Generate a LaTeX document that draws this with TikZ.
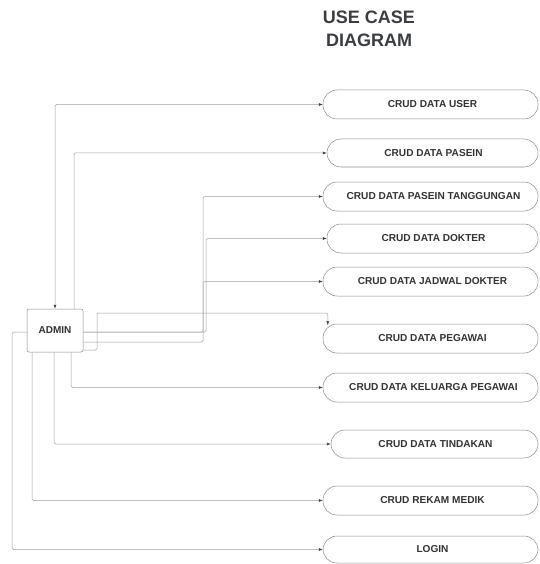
\documentclass[tikz,border=0pt]{standalone}
\usepackage{fontspec}
\setmainfont{Liberation Sans}
\usetikzlibrary{arrows.meta}
\definecolor{linegray}{HTML}{A0A0A0}
\definecolor{shapegray}{HTML}{8C8C8C}
\definecolor{tipgray}{HTML}{444444}
\definecolor{textgray}{HTML}{333333}
\definecolor{titlegray}{HTML}{3A3D42}
\begin{document}
\begin{tikzpicture}[x=1pt,y=-1pt,
  usecase/.style={draw=shapegray,line width=0.5pt,rounded corners=14pt,
    minimum height=29pt,inner sep=0pt,font=\bfseries\fontsize{10.1}{12}\selectfont,text=textgray},
  actorbox/.style={draw=shapegray,line width=0.5pt,rounded corners=2pt,
    minimum width=56pt,minimum height=43pt,inner sep=0pt,font=\bfseries\fontsize{10}{12}\selectfont,text=textgray},
  conn/.style={draw=linegray,line width=0.5pt,rounded corners=1.5pt,
    -{Latex[length=4pt,width=3pt,color=tipgray]}},
  titletext/.style={align=center,inner sep=0pt,text=titlegray,
    font=\bfseries\fontsize{18}{23}\selectfont}]
\useasboundingbox (0,0) rectangle (539,564);
\fill[white] (0,0) rectangle (539,564);

\node[titletext] (title) at (369,29) {USE CASE\\DIAGRAM};

\node[actorbox] (ADMIN) at (55,330.5) {ADMIN};

\node[usecase,minimum width=215pt] (USER) at (430.5,104.5) {\hspace*{4pt}CRUD DATA USER};
\node[usecase,minimum width=211pt,minimum height=28pt] (PASEIN) at (432.5,153) {\hspace*{2pt}CRUD DATA PASEIN};
\node[usecase,minimum width=215pt] (TANGG) at (430.5,196.5) {\hspace*{6pt}CRUD DATA PASEIN TANGGUNGAN};
\node[usecase,minimum width=211pt] (DOKTER) at (432.5,238.5) {\hspace*{2pt}CRUD DATA DOKTER};
\node[usecase,minimum width=215pt] (JADWAL) at (430.5,281.5) {\hspace*{4pt}CRUD DATA JADWAL DOKTER};
\node[usecase,minimum width=215pt] (PEGAWAI) at (430.5,338.5) {\hspace*{4pt}CRUD DATA PEGAWAI};
\node[usecase,minimum width=215pt] (KELUARGA) at (430.5,387.5) {\hspace*{6pt}CRUD DATA KELUARGA PEGAWAI};
\node[usecase,minimum width=207pt,minimum height=28pt] (TINDAKAN) at (434.5,444) {\hspace*{2pt}CRUD DATA TINDAKAN};
\node[usecase,minimum width=215pt] (REKAM) at (430.5,500.5) {\hspace*{4pt}CRUD REKAM MEDIK};
\node[usecase,minimum width=215pt,minimum height=27pt] (LOGIN) at (430.5,549.5) {\hspace*{4pt}LOGIN};

% top connectors
\draw[conn,{Latex[length=4pt,width=3pt,color=tipgray]}-{Latex[length=4pt,width=3pt,color=tipgray]}]
  (ADMIN.north) |- (USER.west);
\draw[conn] ([xshift=19pt]ADMIN.north) |- (PASEIN.west);

% right connectors
\draw[conn] ([yshift=-11.5pt]ADMIN.east) -- (203,342) |- (TANGG.west);
\draw[conn] ([yshift=-1.5pt]ADMIN.east) -- (206,332) |- (DOKTER.west);
\draw[conn] ([yshift=-1.5pt]ADMIN.east) -- (203,332) |- (JADWAL.west);
\draw[conn] ([yshift=-19.5pt]ADMIN.east) -- (97,350) -- (97,313) -- (328,313)
  -- ([xshift=5pt,yshift=-1.5pt]PEGAWAI.north west);

% bottom connectors
\draw[conn] ([xshift=16pt]ADMIN.south) |- (KELUARGA.west);
\draw[conn] ([xshift=-1pt]ADMIN.south) |- (TINDAKAN.west);
\draw[conn] ([xshift=-23pt]ADMIN.south) |- (REKAM.west);
\draw[conn] ([yshift=-1.5pt]ADMIN.west) -- (12,332) |- (LOGIN.west);
\end{tikzpicture}
\end{document}
